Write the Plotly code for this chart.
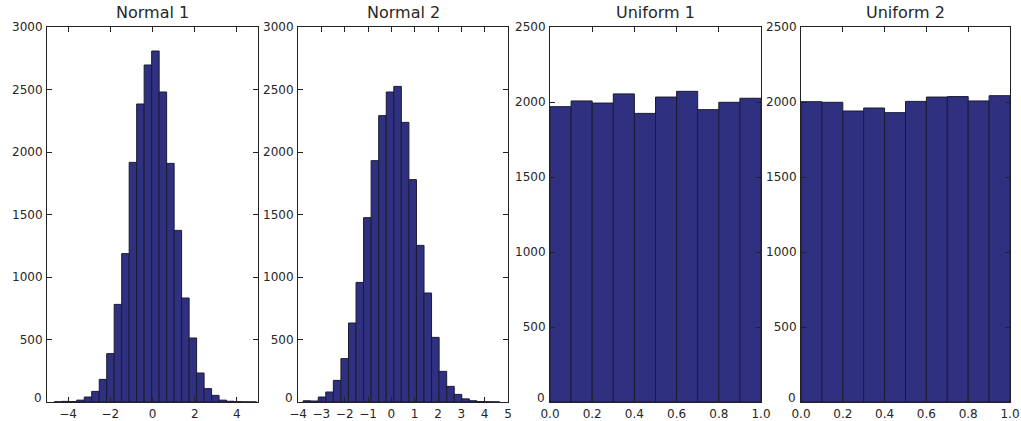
import plotly.graph_objects as go

# ---------------- data ----------------
titles = ["Normal 1", "Normal 2", "Uniform 1", "Uniform 2"]

normal1_edges = [-4.655, -4.300, -3.945, -3.590, -3.235, -2.880, -2.525, -2.170,
                 -1.815, -1.460, -1.105, -0.750, -0.395, -0.040, 0.315, 0.670,
                 1.025, 1.380, 1.735, 2.090, 2.445, 2.800, 3.155, 3.510, 3.865,
                 4.220, 4.575, 4.930]
normal1_counts = [2, 5, 4, 15, 40, 85, 181, 387, 781, 1187, 1917, 2384, 2696,
                  2808, 2480, 1909, 1373, 832, 512, 232, 107, 53, 15, 6, 3, 1, 1]

normal2_edges = [-3.780, -3.456, -3.132, -2.809, -2.485, -2.161, -1.837, -1.513,
                 -1.190, -0.866, -0.542, -0.218, 0.106, 0.429, 0.753, 1.077,
                 1.401, 1.724, 2.048, 2.372, 2.696, 3.020, 3.343, 3.667, 3.991,
                 4.315, 4.639]
normal2_counts = [10, 8, 40, 80, 173, 347, 632, 957, 1475, 1931, 2291, 2480,
                  2525, 2237, 1779, 1253, 872, 517, 245, 125, 61, 25, 10, 4, 2, 1]

uniform_edges = [0.0, 0.1, 0.2, 0.3, 0.4, 0.5, 0.6, 0.7, 0.8, 0.9, 1.0]
uniform1_counts = [1969, 2007, 1993, 2054, 1924, 2033, 2071, 1949, 1998, 2025]
uniform2_counts = [2002, 1998, 1940, 1960, 1929, 2004, 2033, 2036, 2007, 2042]

x_ranges = [[-5, 5], [-4, 5], [0, 1], [0, 1]]
y_ranges = [[0, 3000], [0, 3000], [0, 2500], [0, 2500]]
x_tickvals = [[-4, -2, 0, 2, 4],
              [-4, -3, -2, -1, 0, 1, 2, 3, 4, 5],
              [0.0, 0.2, 0.4, 0.6, 0.8, 1.0],
              [0.0, 0.2, 0.4, 0.6, 0.8, 1.0]]
x_ticktext = [["\u22124", "\u22122", "0", "2", "4"],
              ["\u22124", "\u22123", "\u22122", "\u22121", "0", "1", "2", "3", "4", "5"],
              ["0.0", "0.2", "0.4", "0.6", "0.8", "1.0"],
              ["0.0", "0.2", "0.4", "0.6", "0.8", "1.0"]]
y_tickvals = [[0, 500, 1000, 1500, 2000, 2500, 3000],
              [0, 500, 1000, 1500, 2000, 2500, 3000],
              [0, 500, 1000, 1500, 2000, 2500],
              [0, 500, 1000, 1500, 2000, 2500]]

# ---------------- layout geometry (pixels) ----------------
W, H = 1021, 421
panel_px = [(47, 258), (298, 508), (550, 761), (801, 1010)]
top_px, bottom_px = 27, 402

FILL = "#2f3080"
EDGE = "#1b1b33"
TXT = "#262626"
FONT = "DejaVu Sans"

series = [(normal1_edges, normal1_counts), (normal2_edges, normal2_counts),
          (uniform_edges, uniform1_counts), (uniform_edges, uniform2_counts)]

fig = go.Figure()
layout = dict(
    width=W, height=H,
    margin=dict(l=0, r=0, t=0, b=0),
    paper_bgcolor="white", plot_bgcolor="white",
    showlegend=False,
    font=dict(family=FONT, size=12, color=TXT),
    annotations=[],
)

ydom = [(H - bottom_px) / H, (H - top_px) / H]
for i, (edges, counts) in enumerate(series):
    centers = [(edges[k] + edges[k + 1]) / 2 for k in range(len(counts))]
    widths = [edges[k + 1] - edges[k] for k in range(len(counts))]
    xa = "x" if i == 0 else f"x{i+1}"
    ya = "y" if i == 0 else f"y{i+1}"
    fig.add_trace(go.Bar(
        x=centers, y=counts, width=widths,
        marker=dict(color=FILL, line=dict(color=EDGE, width=1)),
        xaxis=xa, yaxis=ya, hoverinfo="x+y",
    ))
    x0, x1 = panel_px[i]
    yvals = y_tickvals[i]
    common = dict(showgrid=False, zeroline=False, showline=True, linecolor="#222",
                  linewidth=1, mirror="allticks", ticks="inside", ticklen=5,
                  tickcolor="#222", tickwidth=1, automargin=False,
                  ticklabeloverflow="allow",
                  tickfont=dict(family=FONT, size=12, color=TXT))
    layout["xaxis" if i == 0 else f"xaxis{i+1}"] = dict(
        common, domain=[x0 / W, x1 / W], range=x_ranges[i],
        tickvals=x_tickvals[i], ticktext=x_ticktext[i],
        anchor=ya, ticklabelstandoff=1)
    # the bottom "0" label is drawn as an annotation, nudged up, so it does
    # not collide with the first x tick label
    layout["yaxis" if i == 0 else f"yaxis{i+1}"] = dict(
        common, domain=ydom, range=y_ranges[i],
        tickvals=yvals, ticktext=[("" if v == 0 else str(v)) for v in yvals],
        anchor=xa, ticklabelstandoff=1)
    layout["annotations"].append(dict(
        text=str(yvals[0]), x=(x0 - 3) / W, y=yvals[0],
        xref="paper", yref=ya, xanchor="right", yanchor="middle", yshift=4,
        showarrow=False, font=dict(family=FONT, size=12, color=TXT)))
    layout["annotations"].append(dict(
        text=titles[i], x=(x0 + x1) / 2 / W, y=(H - top_px + 3) / H,
        xref="paper", yref="paper", xanchor="center", yanchor="bottom",
        showarrow=False, font=dict(family=FONT, size=16, color=TXT)))

fig.update_layout(**layout)
fig.write_html("out.html")
